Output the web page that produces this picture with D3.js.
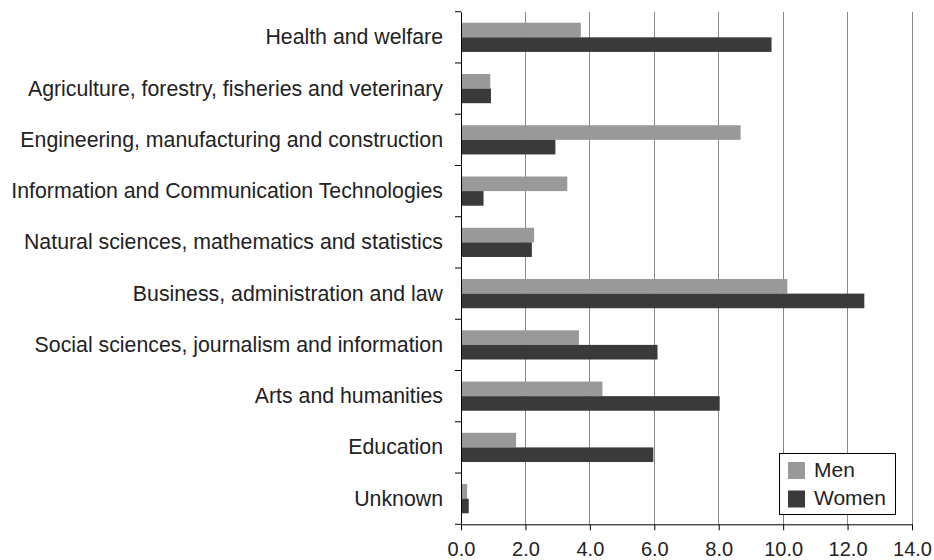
<!DOCTYPE html>
<html><head><meta charset="utf-8">
<script src="https://cdn.jsdelivr.net/npm/d3@7"></script>
<style>body{margin:0;background:#fff}svg{display:block}</style>
</head><body>
<svg id="c" width="934" height="560"></svg>
<script>
const categories = ["Health and welfare","Agriculture, forestry, fisheries and veterinary","Engineering, manufacturing and construction","Information and Communication Technologies","Natural sciences, mathematics and statistics","Business, administration and law","Social sciences, journalism and information","Arts and humanities","Education","Unknown"];
const men =   [3.72, 0.91, 8.68, 3.30, 2.27, 10.13, 3.66, 4.39, 1.71, 0.19];
const women = [9.64, 0.93, 2.93, 0.70, 2.20, 12.52, 6.10, 8.03, 5.97, 0.24];
const series = ["Men","Women"];
const colors = ["#999999","#3a3a3a"];
const xTicks = [0,2,4,6,8,10,12,14];

const svg = d3.select("#c");
const font = "Liberation Sans, Arial, Helvetica, sans-serif";
const x = d3.scaleLinear().domain([0,14]).range([461,912]);
const y = d3.scaleBand().domain(categories).range([11.7,524.3]).paddingInner(0.43).paddingOuter(0.215);
const yi = d3.scaleBand().domain(series).range([0,y.bandwidth()]);

// grid
svg.append("g").selectAll("line").data(xTicks.filter(d=>d>0)).join("line")
  .attr("x1",d=>x(d)).attr("x2",d=>x(d)).attr("y1",11.7).attr("y2",524.3)
  .attr("stroke","#888").attr("stroke-width",1).attr("shape-rendering","crispEdges");

// bars
const data = [men, women];
const g = svg.append("g");
series.forEach((s,si)=>{
  g.selectAll("rect."+s).data(categories).join("rect").attr("class",s)
    .attr("x",x(0)).attr("y",(c)=>y(c)+yi(s))
    .attr("width",(c,i)=>x(data[si][i])-x(0)).attr("height",yi.bandwidth())
    .attr("fill",colors[si]);
});

// x axis
const xa = svg.append("g").attr("transform","translate(0,524.3)")
  .call(d3.axisBottom(x).tickValues(xTicks).tickFormat(d3.format(".1f")).tickSize(6).tickSizeOuter(0));
xa.select(".domain").attr("stroke","#000");
xa.selectAll(".tick line").attr("stroke","#000");
xa.selectAll("text").attr("font-family",font).attr("font-size",20).attr("fill","#222")
  .attr("y",31.5).attr("dy",0);

// y axis
const ya = svg.append("g").attr("transform","translate(461,0)")
  .call(d3.axisLeft(y).tickValues([]).tickSizeOuter(0));
ya.select(".domain").attr("stroke","#000");
const bounds = d3.range(categories.length+1).map(i=>11.7+i*(524.3-11.7)/categories.length);
ya.selectAll("line.b").data(bounds).join("line").attr("class","b")
  .attr("x1",-6).attr("x2",0).attr("y1",d=>d).attr("y2",d=>d).attr("stroke","#000");
svg.append("g").selectAll("text").data(categories).join("text")
  .attr("x",443).attr("y",c=>y(c)+y.bandwidth()/2).attr("dy","0.33em")
  .attr("text-anchor","end").attr("font-family",font).attr("font-size",21.3).attr("fill","#222")
  .text(d=>d);

// legend
const lg = svg.append("g");
lg.append("rect").attr("x",779.5).attr("y",453.5).attr("width",116).attr("height",61)
  .attr("fill","#fff").attr("stroke","#000").attr("stroke-width",1);
series.forEach((s,i)=>{
  lg.append("rect").attr("x",788).attr("y",462+i*28.5).attr("width",17).attr("height",17).attr("fill",colors[i]);
  lg.append("text").attr("x",814).attr("y",476.5+i*28).attr("dy",0)
    .attr("font-family",font).attr("font-size",21).attr("fill","#222").text(s);
});
</script>
</body></html>
